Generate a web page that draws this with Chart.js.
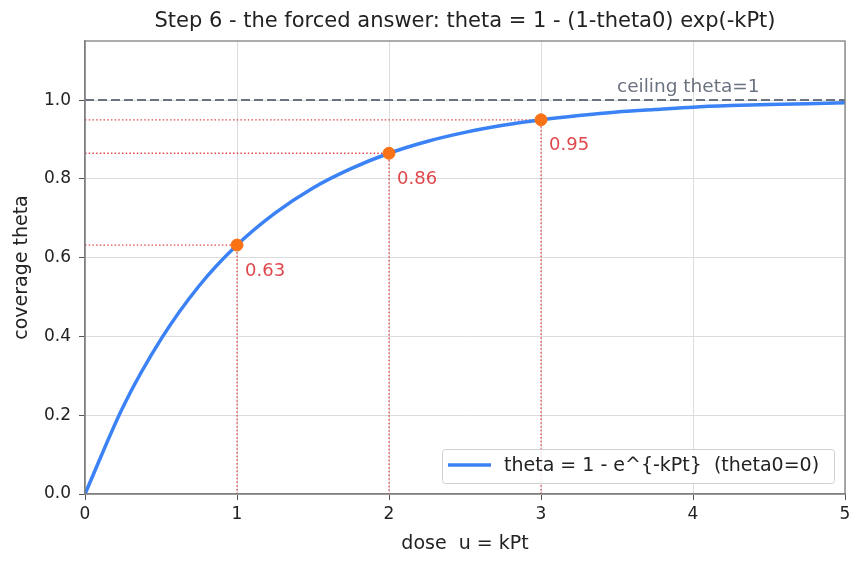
<!DOCTYPE html>
<html>
<head>
<meta charset="utf-8">
<script src="https://cdn.jsdelivr.net/npm/chart.js@4.4.1/dist/chart.umd.min.js"></script>
<style>
  html, body { margin: 0; padding: 0; background: #fff; }
  #wrap { width: 865px; height: 567px; }
</style>
</head>
<body>
<div id="wrap"><canvas id="chart" width="865" height="567"></canvas></div>
<script>
// dose u = kPt and coverage
const doses = [0, 0.25, 0.5, 0.75, 1, 1.25, 1.5, 1.75, 2, 2.25, 2.5, 2.75, 3, 3.25, 3.5, 3.75, 4, 4.25, 4.5, 4.75, 5];
const coverage = [0, 0.221, 0.393, 0.528, 0.632, 0.713, 0.777, 0.826, 0.865, 0.895, 0.918, 0.936, 0.950, 0.961, 0.970, 0.976, 0.982, 0.986, 0.989, 0.991, 0.993];

// marked points
const markDoses = [1, 2, 3];
const markValues = [0.632, 0.865, 0.950];
const markLabels = ['0.63', '0.86', '0.95'];

const xTicks = [0, 1, 2, 3, 4, 5];
const yTicks = [0, 0.2, 0.4, 0.6, 0.8, 1.0];

const FONT = 'DejaVu Sans';
const TITLE = 'Step 6 - the forced answer: theta = 1 - (1-theta0) exp(-kPt)';

let guides = markDoses.map((u, i) => ({
    type: 'line',
    data: [{x: 0, y: markValues[i]}, {x: u, y: markValues[i]}, {x: u, y: 0}],
    borderColor: '#e0474c',
    borderWidth: 1.3,
    borderDash: [1.5, 2.2],
    pointRadius: 0,
    tension: 0,
    order: 5,
}));

// title, legend + annotation texts
const overlay = {
    id: 'overlay',
    afterDatasetsDraw(chart) {
        const {ctx, chartArea: a, scales: {x, y}} = chart;
        ctx.save();
        ctx.font = '21px "' + FONT + '"';
        ctx.fillStyle = '#222';
        ctx.textAlign = 'center';
        ctx.textBaseline = 'middle';
        ctx.fillText(TITLE, (a.left + a.right) / 2, 22);

        ctx.font = '18px "' + FONT + '"';
        ctx.fillStyle = '#e0474c';
        ctx.textAlign = 'left';
        markDoses.forEach((u, i) => {
            ctx.fillText(markLabels[i], x.getPixelForValue(u) + 8, y.getPixelForValue(markValues[i]) + 26);
        });

        ctx.font = '18.5px "' + FONT + '"';
        ctx.fillStyle = '#6b7280';
        ctx.textBaseline = 'alphabetic';
        ctx.fillText('ceiling theta=1', x.getPixelForValue(3.5), y.getPixelForValue(1.02));

        // legend box, lower right
        const bx = 442, by = 449, bw = 392, bh = 34;
        ctx.fillStyle = 'rgba(255,255,255,0.85)';
        ctx.strokeStyle = '#d0d0d0';
        ctx.lineWidth = 1;
        ctx.beginPath();
        ctx.roundRect(bx + 0.5, by + 0.5, bw, bh, 3);
        ctx.fill();
        ctx.stroke();
        ctx.strokeStyle = '#3b82f6';
        ctx.lineWidth = 3.5;
        ctx.beginPath();
        ctx.moveTo(448, by + 16);
        ctx.lineTo(491, by + 16);
        ctx.stroke();
        ctx.fillStyle = '#222';
        ctx.font = '19px "' + FONT + '"';
        ctx.textBaseline = 'middle';
        ctx.fillText('theta = 1 - e^{-kPt}  (theta0=0)', 504, by + 17);
        ctx.restore();
    }
};

new Chart(document.getElementById('chart'), {
    type: 'line',
    data: {
        datasets: [
            {
                data: doses.map((u, i) => ({x: u, y: coverage[i]})),
                borderColor: '#3b82f6',
                borderWidth: 3.5,
                pointRadius: 0,
                cubicInterpolationMode: 'monotone',
                order: 2,
            },
            {
                data: [{x: 0, y: 1}, {x: 5, y: 1}],
                borderColor: '#6b7280',
                borderWidth: 2,
                borderDash: [9, 4],
                pointRadius: 0,
                order: 3,
            },
            ...guides,
            {
                type: 'scatter',
                data: markDoses.map((u, i) => ({x: u, y: markValues[i]})),
                backgroundColor: '#f97316',
                borderColor: '#f97316',
                pointRadius: 6,
                order: 1,
            },
        ]
    },
    options: {
        responsive: false,
        animation: false,
        layout: { padding: { left: 0, right: 20, top: 41, bottom: 0 } },
        plugins: {
            legend: { display: false },
            tooltip: { enabled: false },
            title: { display: false },
        },
        scales: {
            x: {
                type: 'linear',
                min: 0, max: 5,
                afterBuildTicks: s => { s.ticks = xTicks.map(v => ({value: v})); },
                afterFit: s => { s.height = 73; },
                ticks: { color: '#222', font: { family: FONT, size: 17 }, padding: 4 },
                grid: { color: '#dcdcdc', tickColor: '#555', tickLength: 6 },
                border: { color: '#808080', width: 1.3 },
                title: { display: true, text: 'dose  u = kPt', color: '#222', font: { family: FONT, size: 19 }, padding: { top: 0, bottom: 12 } },
            },
            y: {
                type: 'linear',
                min: 0, max: 1.15,
                afterBuildTicks: s => { s.ticks = yTicks.map(v => ({value: v})); },
                afterFit: s => { s.width = 85; },
                ticks: { color: '#222', font: { family: FONT, size: 17 }, padding: 8, callback: v => v.toFixed(1) },
                grid: { color: '#dcdcdc', tickColor: '#555', tickLength: 6 },
                border: { color: '#808080', width: 1.3 },
                title: { display: true, text: 'coverage theta', color: '#222', font: { family: FONT, size: 19 }, padding: { top: 11, bottom: 0 } },
            },
        },
    },
    plugins: [overlay, {
        id: 'frame',
        afterDraw(chart) {
            const {ctx, chartArea: a} = chart;
            ctx.save();
            ctx.strokeStyle = '#808080';
            ctx.lineWidth = 1.3;
            ctx.strokeRect(a.left, a.top, a.right - a.left, a.bottom - a.top);
            ctx.restore();
        }
    }],
});
</script>
</body>
</html>
